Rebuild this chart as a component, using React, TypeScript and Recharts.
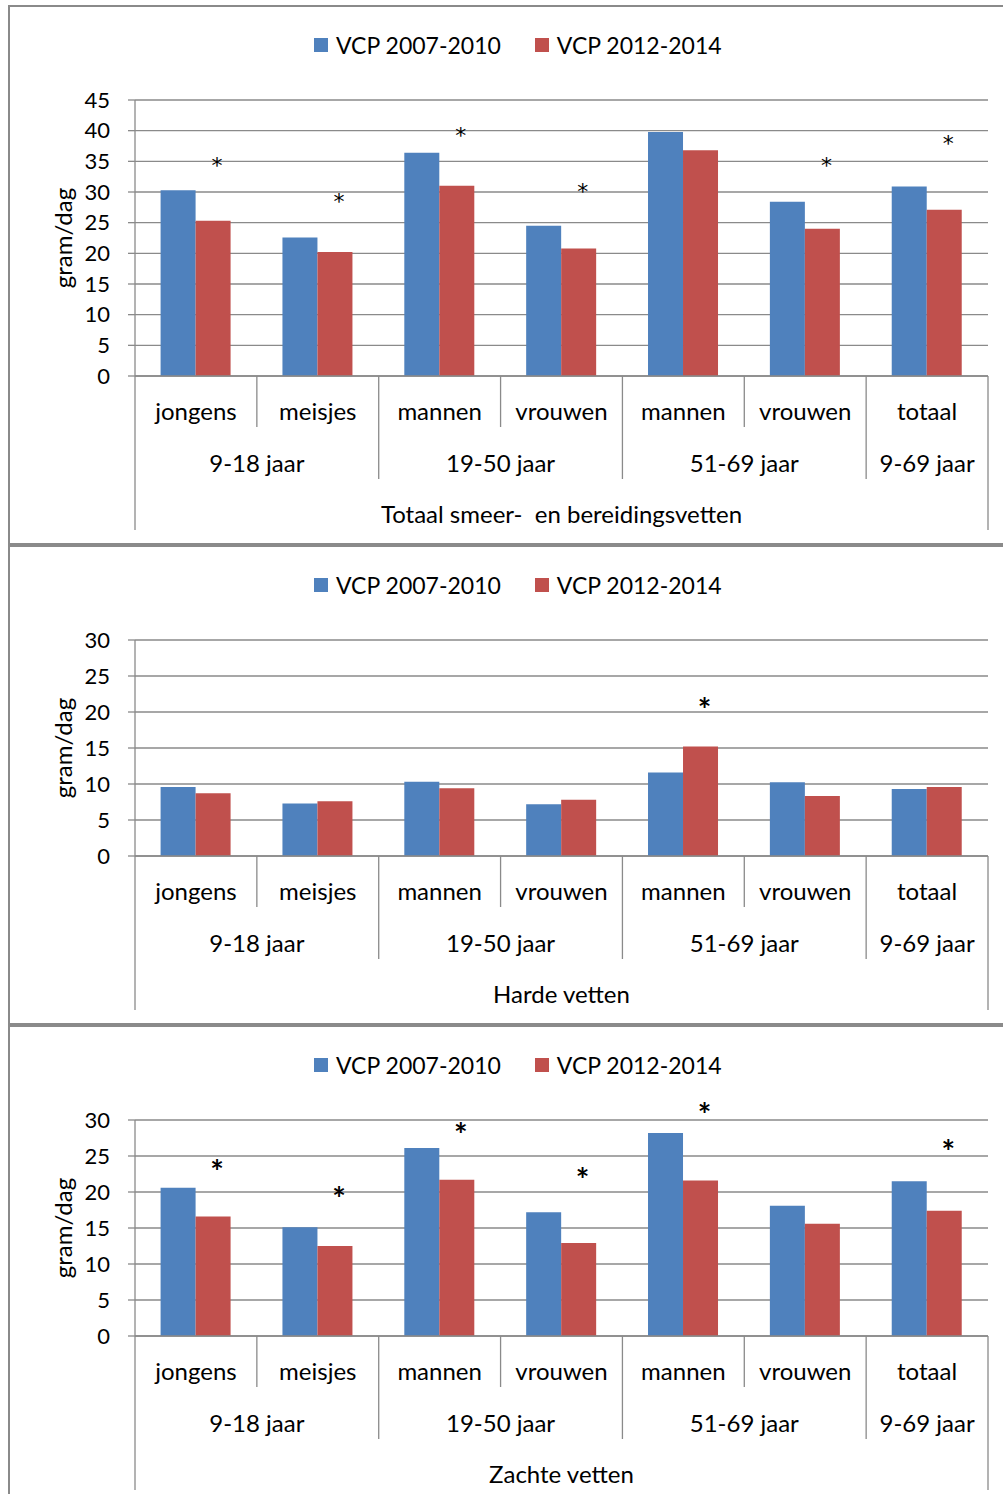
import React from "react";
import { BarChart, Bar, XAxis, YAxis, CartesianGrid, Legend, LabelList, Label } from "recharts";

// sub categories and their age groups (two level x axis)
const categories = ["jongens", "meisjes", "mannen", "vrouwen", "mannen", "vrouwen", "totaal"];
const ageGroups = ["9-18 jaar", "9-18 jaar", "19-50 jaar", "19-50 jaar", "51-69 jaar", "51-69 jaar", "9-69 jaar"];
const seriesNames = ["VCP 2007-2010", "VCP 2012-2014"];

// Totaal smeer- en bereidingsvetten
const totaalOld = [30.3, 22.6, 36.4, 24.5, 39.8, 28.4, 30.9];
const totaalNew = [25.3, 20.2, 31.0, 20.8, 36.8, 24.0, 27.1];
const totaalStars = [35, 29.2, 40, 30.8, null, 35, 38.6];
const totaalTicks = [0, 5, 10, 15, 20, 25, 30, 35, 40, 45];

// Harde vetten
const hardeOld = [9.6, 7.3, 10.3, 7.2, 11.6, 10.25, 9.3];
const hardeNew = [8.7, 7.6, 9.4, 7.8, 15.2, 8.35, 9.6];
const hardeStars = [null, null, null, null, 21.1, null, null];
const hardeTicks = [0, 5, 10, 15, 20, 25, 30];

// Zachte vetten
const zachteOld = [20.6, 15.1, 26.1, 17.2, 28.2, 18.1, 21.5];
const zachteNew = [16.6, 12.5, 21.7, 12.9, 21.6, 15.6, 17.4];
const zachteStars = [23.5, 19.8, 28.7, 22.5, 31.5, null, 26.4];
const zachteTicks = [0, 5, 10, 15, 20, 25, 30];

const BLUE = "#4F81BD";
const RED = "#C0504D";
const GRID = "#8a8a8a";
const FONT = "Lato, 'Open Sans', sans-serif";

const CHART_W = 1003;
const PLOT_LEFT = 135;
const PLOT_RIGHT = 988;
const PLOT_TOP = 94;
const AXIS_H = 160;
const Y_AXIS_W = 60;

type Row = { name: string; group: string; oud: number; nieuw: number; star: number | null };

const buildRows = (oud: number[], nieuw: number[], stars: (number | null)[]): Row[] =>
  categories.map((name, i) => ({ name, group: ageGroups[i], oud: oud[i], nieuw: nieuw[i], star: stars[i] }));

const renderLegend = (props: any) => {
  const items = (props.payload || []).filter((p: any) => p.type !== "none");
  return (
    <div style={{ display: "flex", alignItems: "center", fontFamily: FONT, fontSize: 23, color: "#000", whiteSpace: "nowrap", lineHeight: "26px" }}>
      {items.map((p: any, i: number) => (
        <span key={i} style={{ display: "flex", alignItems: "center", marginRight: i === 0 ? 34 : 0 }}>
          <span style={{ display: "inline-block", width: 14, height: 14, background: p.color, marginRight: 8 }} />
          {p.value}
        </span>
      ))}
    </div>
  );
};

const makeTick = (baseY: number, title: string) => (props: any) => {
  const { x, payload } = props;
  const i = payload.index;
  const band = (PLOT_RIGHT - PLOT_LEFT) / categories.length;
  const left = x - band / 2;
  const newGroup = i === 0 || ageGroups[i] !== ageGroups[i - 1];
  const depth = i === 0 ? 154 : newGroup ? 103 : 51;
  const txt = { fontFamily: FONT, fontSize: 24, fill: "#000", textAnchor: "middle" as const, dominantBaseline: "central" as const };

  let groupSize = 0;
  if (newGroup) {
    while (i + groupSize < ageGroups.length && ageGroups[i + groupSize] === ageGroups[i]) groupSize++;
  }
  return (
    <g>
      <line x1={left} x2={left} y1={baseY} y2={baseY + depth} stroke={GRID} strokeWidth={1.3} />
      {i === categories.length - 1 && (
        <line x1={x + band / 2} x2={x + band / 2} y1={baseY} y2={baseY + 154} stroke={GRID} strokeWidth={1.3} />
      )}
      <text x={x} y={baseY + 34} {...txt}>{payload.value}</text>
      {newGroup && (
        <text x={left + (groupSize * band) / 2} y={baseY + 86} {...txt}>{ageGroups[i]}</text>
      )}
      {i === 0 && (
        <text x={(PLOT_LEFT + PLOT_RIGHT) / 2} y={baseY + 137} {...txt} style={{ whiteSpace: "pre" }}>{title}</text>
      )}
    </g>
  );
};

const makeStar = (nieuw: number[], bold: boolean) => (props: any) => {
  const { index, value } = props;
  if (value == null) return null;
  const vb = props.viewBox && props.viewBox.height != null ? props.viewBox : props;
  const { x, y, width, height } = vb;
  const unit = height / nieuw[index];
  const cy = y + height - value * unit;
  const size = bold ? 32 : 22;
  return (
    <text x={x + width / 2 + 4} y={cy + size * 0.55} textAnchor="middle" fontFamily={bold ? FONT : "'DejaVu Sans', sans-serif"} fontSize={size} fontWeight={bold ? 700 : 400} fill="#000">
      *
    </text>
  );
};

const yLabel = (props: any) => {
  const vb = props.viewBox;
  const cy = vb.y + vb.height / 2;
  return (
    <text x={62} y={cy} transform={`rotate(-90 62 ${cy})`} textAnchor="middle" dominantBaseline="central" fontFamily={FONT} fontSize={24} fill="#000">
      gram/dag
    </text>
  );
};

interface PanelProps {
  top: number;
  plotHeight: number;
  yMax: number;
  ticks: number[];
  title: string;
  oud: number[];
  nieuw: number[];
  stars: (number | null)[];
  bold: boolean;
}

function Panel({ top, plotHeight, yMax, ticks, title, oud, nieuw, stars, bold }: PanelProps) {
  const rows = buildRows(oud, nieuw, stars);
  const baseY = PLOT_TOP + plotHeight;
  return (
    <div style={{ position: "absolute", left: 0, top }}>
      <BarChart
        width={CHART_W}
        height={PLOT_TOP + plotHeight + AXIS_H}
        data={rows}
        margin={{ top: PLOT_TOP, right: CHART_W - PLOT_RIGHT, bottom: 0, left: PLOT_LEFT - Y_AXIS_W }}
        barCategoryGap="21%"
        barGap={0}
      >
        <CartesianGrid vertical={false} stroke={GRID} strokeWidth={1.3} />
        <XAxis
          dataKey="name"
          interval={0}
          height={AXIS_H}
          tickLine={false}
          axisLine={{ stroke: GRID, strokeWidth: 1.3 }}
          tick={makeTick(baseY, title)}
        />
        <YAxis
          width={Y_AXIS_W}
          domain={[0, yMax]}
          ticks={ticks}
          interval={0}
          tickSize={7}
          tickMargin={18}
          axisLine={{ stroke: GRID, strokeWidth: 1.3 }}
          tickLine={{ stroke: GRID, strokeWidth: 1.3 }}
          tick={{ fill: "#000", fontSize: 22, fontFamily: FONT }}
        >
          <Label content={yLabel} />
        </YAxis>
        <Legend
          layout="horizontal"
          verticalAlign="middle"
          align="center"
          content={renderLegend}
          wrapperStyle={{ left: 314, top: 26, width: "auto", height: 26 }}
        />
        <Bar dataKey="oud" name={seriesNames[0]} fill={BLUE} isAnimationActive={false} />
        <Bar dataKey="nieuw" name={seriesNames[1]} fill={RED} isAnimationActive={false}>
          <LabelList dataKey="star" content={makeStar(nieuw, bold)} />
        </Bar>
      </BarChart>
    </div>
  );
}

const frame = (top: number, height: number): React.CSSProperties => ({
  position: "absolute",
  left: 8,
  top,
  width: 1010,
  height,
  border: `2px solid ${GRID}`,
  boxSizing: "border-box",
});

export default function App() {
  return (
    <div style={{ position: "absolute", left: 0, top: 0, width: 1003, height: 1494, overflow: "hidden", background: "#fff" }}>
      <div style={frame(5, 540)} />
      <div style={frame(545, 480)} />
      <div style={frame(1025, 480)} />
      <Panel top={6} plotHeight={276} yMax={45} ticks={totaalTicks} title="Totaal smeer-  en bereidingsvetten"
        oud={totaalOld} nieuw={totaalNew} stars={totaalStars} bold={false} />
      <Panel top={546} plotHeight={216} yMax={30} ticks={hardeTicks} title="Harde vetten"
        oud={hardeOld} nieuw={hardeNew} stars={hardeStars} bold={true} />
      <Panel top={1026} plotHeight={216} yMax={30} ticks={zachteTicks} title="Zachte vetten"
        oud={zachteOld} nieuw={zachteNew} stars={zachteStars} bold={true} />
    </div>
  );
}
